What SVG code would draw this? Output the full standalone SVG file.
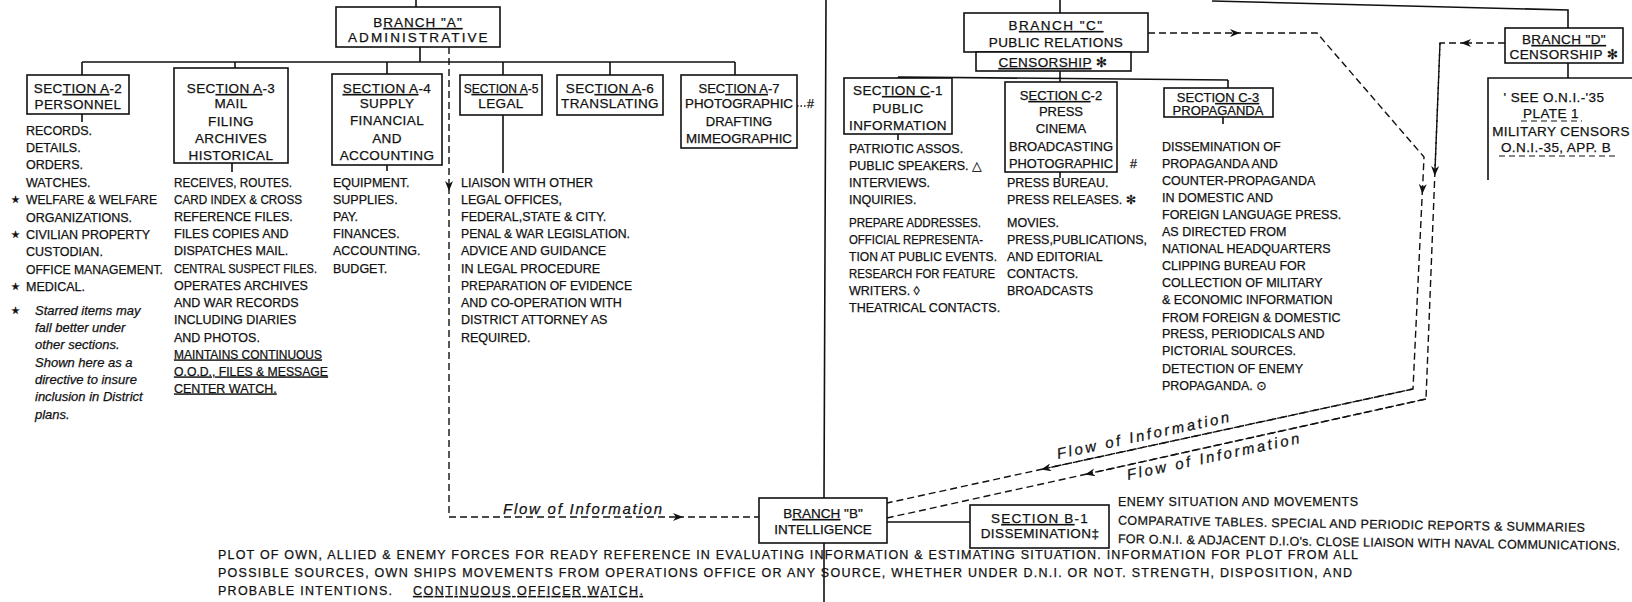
<svg xmlns="http://www.w3.org/2000/svg" width="1632" height="602" viewBox="0 0 1632 602">
<defs>
<style>
text{font-family:"Liberation Sans","DejaVu Sans",sans-serif;fill:#111;stroke:#111;stroke-width:0.25}
.l{font-size:12.5px}
.b{font-size:13.5px;text-anchor:middle;letter-spacing:0.4px}
.n{letter-spacing:0;font-size:13px}
.i{font-size:13px;font-style:italic}
.f{font-size:15px;font-style:italic}
.u{text-decoration:underline}
.s{font-size:10px}
.box{fill:#fff;stroke:#111;stroke-width:1.6}
.ln{fill:none;stroke:#111;stroke-width:1.6}
.d{fill:none;stroke:#111;stroke-width:1.4;stroke-dasharray:7 4}
.da{fill:none;stroke:#111;stroke-width:1.4;stroke-dasharray:7 4;marker-end:url(#ah)}
.du{fill:none;stroke:#111;stroke-width:1.2;stroke-dasharray:6 4}
</style>
<marker id="ah" viewBox="0 0 10 8" refX="6" refY="4" markerWidth="10" markerHeight="8" markerUnits="userSpaceOnUse" orient="auto"><path d="M0,0 L10,4 L0,8 L3,4 z" fill="#111"/></marker>
</defs>
<rect width="1632" height="602" fill="#fff"/>

<g id="connectors">
<path class="ln" d="M416,0 V7 M420,47 V62 M82,62 H735 M82,62 V75 M235,62 V68 M387,62 V74 M503,62 V75 M610,62 V75 M735,62 V75"/>
<path class="ln" d="M82,114 V122 M232,163 V172 M387,165 V171 M503,115 V173"/>
<path class="ln" d="M826,0 L824,498 M824,543 V602"/>
<path class="ln" d="M1060,0 V13 M898,77 L1228,80 M898,77 V78 M1060,71 V82 M1228,80 V88 M898,134 V140 M1060,172 V178 M1223,117 V124"/>
<path class="ln" d="M1212,1 L1568,10 V28 M1568,63 V78 M1632,78 H1488 V180"/>
<path class="ln" d="M887,522 H970"/>
<path class="da" d="M449,47 V187"/>
<path class="da" d="M449,187 V517 H679"/>
<path class="d" d="M677,517 H759"/>
<path class="da" d="M1148,33 H1236"/>
<path class="da" d="M1234,33 H1317 L1424,157 L1422.5,190"/>
<path class="d" d="M1422.5,188 L1413,389 L1043,469"/>
<path class="da" d="M1413,389 L1045,468.6"/>
<path class="d" d="M1043,469 L887,503"/>
<path class="da" d="M1505,43 H1465"/>
<path class="d" d="M1467,43 H1440 L1435,170"/>
<path class="da" d="M1440,43 L1434.9,172"/>
<path class="d" d="M1435,170 L1426,399 L1087,474"/>
<path class="da" d="M1426,399 L1089,473.6"/>
<path class="d" d="M1087,474 L887,518"/>
<path class="d" d="M797,106 H806" style="stroke-dasharray:1.5 2"/>
</g>

<g id="branchA">
<rect class="box" x="336" y="7" width="164" height="40"/>
<text class="b" x="418" y="27" style="letter-spacing:1px">B<tspan class="u">RANCH "A"</tspan></text>
<text class="b" x="418" y="42" textLength="140" lengthAdjust="spacing">ADMINISTRATIVE</text>
</g>

<g id="sectionA2">
<rect class="box" x="27" y="75" width="102" height="39"/>
<text class="b" x="78" y="93">SEC<tspan class="u">TION A</tspan>-2</text>
<text class="b" x="78" y="109">PERSONNEL</text>
<text class="l" x="26" y="134.5">RECORDS.</text>
<text class="l" x="26" y="152">DETAILS.</text>
<text class="l" x="26" y="169">ORDERS.</text>
<text class="l" x="26" y="187">WATCHES.</text>
<text class="s" x="11" y="203">★</text>
<text class="l" x="26" y="204" textLength="131" lengthAdjust="spacingAndGlyphs">WELFARE &amp; WELFARE</text>
<text class="l" x="26" y="221.5">ORGANIZATIONS.</text>
<text class="s" x="11" y="238">★</text>
<text class="l" x="26" y="239">CIVILIAN PROPERTY</text>
<text class="l" x="26" y="256">CUSTODIAN.</text>
<text class="l" x="26" y="274" textLength="137" lengthAdjust="spacingAndGlyphs">OFFICE MANAGEMENT.</text>
<text class="s" x="11" y="290">★</text>
<text class="l" x="26" y="291">MEDICAL.</text>
<text class="s" x="11" y="314">★</text>
<text class="i" x="35" y="314.5">Starred items may</text>
<text class="i" x="35" y="332">fall better under</text>
<text class="i" x="35" y="349">other sections.</text>
<text class="i" x="35" y="366.5">Shown here as a</text>
<text class="i" x="35" y="384">directive to insure</text>
<text class="i" x="35" y="401">inclusion in District</text>
<text class="i" x="35" y="418.5">plans.</text>
</g>

<g id="sectionA3">
<rect class="box" x="174" y="68" width="114" height="95"/>
<text class="b" x="231" y="93">SEC<tspan class="u">TION A</tspan>-3</text>
<text class="b" x="231" y="108">MAIL</text>
<text class="b" x="231" y="126">FILING</text>
<text class="b" x="231" y="143">ARCHIVES</text>
<text class="b" x="231" y="160">HISTORICAL</text>
<text class="l" x="174" y="186.5" textLength="118" lengthAdjust="spacingAndGlyphs">RECEIVES, ROUTES.</text>
<text class="l" x="174" y="203.5" textLength="128" lengthAdjust="spacingAndGlyphs">CARD INDEX &amp; CROSS</text>
<text class="l" x="174" y="220.5">REFERENCE FILES.</text>
<text class="l" x="174" y="237.5">FILES COPIES AND</text>
<text class="l" x="174" y="254.5">DISPATCHES MAIL.</text>
<text class="l" x="174" y="272.5" textLength="143" lengthAdjust="spacingAndGlyphs">CENTRAL SUSPECT FILES.</text>
<text class="l" x="174" y="289.5">OPERATES ARCHIVES</text>
<text class="l" x="174" y="306.5">AND WAR RECORDS</text>
<text class="l" x="174" y="323.5">INCLUDING DIARIES</text>
<text class="l" x="174" y="341.5">AND PHOTOS.</text>
<text class="l u" x="174" y="358.5" textLength="148" lengthAdjust="spacingAndGlyphs">MAINTAINS CONTINUOUS</text>
<text class="l u" x="174" y="375.5" textLength="154" lengthAdjust="spacingAndGlyphs">O.O.D., FILES &amp; MESSAGE</text>
<text class="l u" x="174" y="392.5">CENTER WATCH.</text>
</g>

<g id="sectionA4">
<rect class="box" x="332" y="74" width="110" height="91"/>
<text class="b" x="387" y="93"><tspan class="u">SECTION A</tspan>-4</text>
<text class="b" x="387" y="108">SUPPLY</text>
<text class="b" x="387" y="125">FINANCIAL</text>
<text class="b" x="387" y="143">AND</text>
<text class="b" x="387" y="160">ACCOUNTING</text>
<text class="l" x="333" y="186.5">EQUIPMENT.</text>
<text class="l" x="333" y="203.5">SUPPLIES.</text>
<text class="l" x="333" y="220.5">PAY.</text>
<text class="l" x="333" y="237.5">FINANCES.</text>
<text class="l" x="333" y="254.5">ACCOUNTING.</text>
<text class="l" x="333" y="272.5">BUDGET.</text>
</g>

<g id="sectionA5">
<rect class="box" x="460" y="75" width="82" height="40"/>
<text class="b" x="501" y="93" style="letter-spacing:0;font-size:12px">S<tspan class="u">ECTION A</tspan>-5</text>
<text class="b" x="501" y="108">LEGAL</text>
<text class="l" x="461" y="186.5">LIAISON WITH OTHER</text>
<text class="l" x="461" y="203.5">LEGAL OFFICES,</text>
<text class="l" x="461" y="220.5">FEDERAL,STATE &amp; CITY.</text>
<text class="l" x="461" y="237.5" textLength="169" lengthAdjust="spacingAndGlyphs">PENAL &amp; WAR LEGISLATION.</text>
<text class="l" x="461" y="255">ADVICE AND GUIDANCE</text>
<text class="l" x="461" y="272.5">IN LEGAL PROCEDURE</text>
<text class="l" x="461" y="289.5" textLength="171" lengthAdjust="spacingAndGlyphs">PREPARATION OF EVIDENCE</text>
<text class="l" x="461" y="306.5">AND CO-OPERATION WITH</text>
<text class="l" x="461" y="323.5">DISTRICT ATTORNEY AS</text>
<text class="l" x="461" y="341.5">REQUIRED.</text>
</g>

<g id="sectionA6">
<rect class="box" x="557" y="75" width="106" height="40"/>
<text class="b" x="610" y="93">SEC<tspan class="u">TION A</tspan>-6</text>
<text class="b" x="610" y="108">TRANSLATING</text>
</g>

<g id="sectionA7">
<rect class="box" x="681" y="75" width="116" height="73"/>
<text class="b n" x="739" y="93">SEC<tspan class="u">TION A</tspan>-7</text>
<text class="b n" x="739" y="108" textLength="108" lengthAdjust="spacingAndGlyphs">PHOTOGRAPHIC</text>
<text class="b n" x="739" y="126">DRAFTING</text>
<text class="b n" x="739" y="143" textLength="106" lengthAdjust="spacingAndGlyphs">MIMEOGRAPHIC</text>
<text class="l" x="807" y="108">#</text>
</g>

<g id="flowLabels">
<text class="f" x="503" y="514" textLength="159" lengthAdjust="spacing">Flow of Information</text>
<text class="f" x="1058" y="459" textLength="176" lengthAdjust="spacing" transform="rotate(-12.2 1058 459)">Flow of Information</text>
<text class="f" x="1128" y="480" textLength="176" lengthAdjust="spacing" transform="rotate(-12.1 1128 480)">Flow of Information</text>
</g>

<g id="branchC">
<rect class="box" x="964" y="13" width="184" height="39"/>
<text class="b" x="1056" y="30" style="letter-spacing:1.5px">B<tspan class="u">RANCH "C"</tspan></text>
<text class="b" x="1056" y="47">PUBLIC RELATIONS</text>
<rect class="box" x="976" y="52" width="155" height="19"/>
<text class="b" x="1053" y="67"><tspan class="u">CENSORSHIP</tspan> ✻</text>
</g>

<g id="sectionC1">
<rect class="box" x="844" y="78" width="108" height="56"/>
<text class="b" x="898" y="95">SEC<tspan class="u">TION C</tspan>-1</text>
<text class="b" x="898" y="113">PUBLIC</text>
<text class="b" x="898" y="130">INFORMATION</text>
<text class="l" x="849" y="152.5">PATRIOTIC ASSOS.</text>
<text class="l" x="849" y="169.5">PUBLIC SPEAKERS. △</text>
<text class="l" x="849" y="186.5">INTERVIEWS.</text>
<text class="l" x="849" y="203.5">INQUIRIES.</text>
<text class="l" x="849" y="226.5" textLength="132" lengthAdjust="spacingAndGlyphs">PREPARE ADDRESSES.</text>
<text class="l" x="849" y="243.5" textLength="134" lengthAdjust="spacingAndGlyphs">OFFICIAL REPRESENTA-</text>
<text class="l" x="849" y="260.5" textLength="148" lengthAdjust="spacingAndGlyphs">TION AT PUBLIC EVENTS.</text>
<text class="l" x="849" y="277.5" textLength="146" lengthAdjust="spacingAndGlyphs">RESEARCH FOR FEATURE</text>
<text class="l" x="849" y="294.5">WRITERS. ◊</text>
<text class="l" x="849" y="311.5">THEATRICAL CONTACTS.</text>
</g>

<g id="sectionC2">
<rect class="box" x="1005" y="82" width="112" height="90"/>
<text class="b n" x="1061" y="100">S<tspan class="u">ECTION C</tspan>-2</text>
<text class="b n" x="1061" y="116">PRESS</text>
<text class="b n" x="1061" y="133">CINEMA</text>
<text class="b n" x="1061" y="151" textLength="104" lengthAdjust="spacingAndGlyphs">BROADCASTING</text>
<text class="b n" x="1061" y="168" textLength="104" lengthAdjust="spacingAndGlyphs">PHOTOGRAPHIC</text>
<text class="l" x="1130" y="168">#</text>
<text class="l" x="1007" y="186.5">PRESS BUREAU.</text>
<text class="l" x="1007" y="203.5">PRESS RELEASES. ✻</text>
<text class="l" x="1007" y="226.5">MOVIES.</text>
<text class="l" x="1007" y="243.5">PRESS,PUBLICATIONS,</text>
<text class="l" x="1007" y="260.5">AND EDITORIAL</text>
<text class="l" x="1007" y="277.5">CONTACTS.</text>
<text class="l" x="1007" y="294.5">BROADCASTS</text>
</g>

<g id="sectionC3">
<rect class="box" x="1164" y="88" width="109" height="29"/>
<text class="b n" x="1218" y="102">SECTI<tspan class="u">ON C-3</tspan></text>
<text class="b n" x="1218" y="115">PROPAGANDA</text>
<text class="l" x="1162" y="150.5">DISSEMINATION OF</text>
<text class="l" x="1162" y="167.5">PROPAGANDA AND</text>
<text class="l" x="1162" y="184.5">COUNTER-PROPAGANDA</text>
<text class="l" x="1162" y="201.5">IN DOMESTIC AND</text>
<text class="l" x="1162" y="218.5">FOREIGN LANGUAGE PRESS.</text>
<text class="l" x="1162" y="235.5">AS DIRECTED FROM</text>
<text class="l" x="1162" y="252.5">NATIONAL HEADQUARTERS</text>
<text class="l" x="1162" y="269.5">CLIPPING BUREAU FOR</text>
<text class="l" x="1162" y="286.5">COLLECTION OF MILITARY</text>
<text class="l" x="1162" y="304">&amp; ECONOMIC INFORMATION</text>
<text class="l" x="1162" y="321.5">FROM FOREIGN &amp; DOMESTIC</text>
<text class="l" x="1162" y="337.5">PRESS, PERIODICALS AND</text>
<text class="l" x="1162" y="354.5">PICTORIAL SOURCES.</text>
<text class="l" x="1162" y="372.5">DETECTION OF ENEMY</text>
<text class="l" x="1162" y="389.5">PROPAGANDA. ⊙</text>
</g>

<g id="branchD">
<rect class="box" x="1505" y="28" width="118" height="35"/>
<text class="b" x="1564" y="44">B<tspan class="u">RANCH "D"</tspan></text>
<text class="b" x="1564" y="59">CENSORSHIP ✻</text>
<text class="b" x="1554" y="102">' SEE O.N.I.-'35</text>
<text class="b" x="1551" y="118">PLATE 1</text>
<path class="du" d="M1521,121 H1582"/>
<text class="b" x="1561" y="136">MILITARY CENSORS</text>
<text class="b" x="1556" y="152">O.N.I.-35, APP. B</text>
<path class="du" d="M1499,156 H1615"/>
</g>

<g id="branchB">
<rect class="box" x="759" y="498" width="128" height="45"/>
<text class="b" x="823" y="518" style="letter-spacing:0">B<tspan class="u">RANCH</tspan> "B"</text>
<text class="b" x="823" y="534" style="letter-spacing:0">INTELLIGENCE</text>
<text class="l" x="218" y="559" textLength="1140" lengthAdjust="spacing">PLOT OF OWN, ALLIED &amp; ENEMY FORCES FOR READY REFERENCE IN EVALUATING INFORMATION &amp; ESTIMATING SITUATION.  INFORMATION FOR PLOT FROM ALL</text>
<text class="l" x="218" y="577" textLength="1134" lengthAdjust="spacing">POSSIBLE SOURCES, OWN SHIPS MOVEMENTS FROM OPERATIONS OFFICE OR ANY SOURCE, WHETHER UNDER D.N.I. OR NOT.  STRENGTH, DISPOSITION, AND</text>
<text class="l" x="218" y="595" textLength="174" lengthAdjust="spacing">PROBABLE INTENTIONS.</text>
<text class="l u" x="413" y="595" textLength="230" lengthAdjust="spacing">CONTINUOUS OFFICER WATCH.</text>
</g>

<g id="sectionB1">
<rect class="box" x="970" y="505" width="139" height="43"/>
<text class="b" x="1040" y="523" style="letter-spacing:1.2px">S<tspan class="u">ECTION B</tspan>-1</text>
<text class="b" x="1040" y="538">DISSEMINATION‡</text>
<text class="l" x="1118" y="505.5" textLength="240" lengthAdjust="spacing">ENEMY SITUATION AND MOVEMENTS</text>
<text class="l" x="1118" y="524.5" textLength="467" lengthAdjust="spacing" transform="rotate(0.9 1118 524.5)">COMPARATIVE TABLES. SPECIAL AND PERIODIC REPORTS &amp; SUMMARIES</text>
<text class="l" x="1118" y="543" textLength="502" lengthAdjust="spacing" transform="rotate(0.8 1118 543)">FOR O.N.I. &amp; ADJACENT D.I.O's. CLOSE LIAISON WITH NAVAL COMMUNICATIONS.</text>
</g>
</svg>
